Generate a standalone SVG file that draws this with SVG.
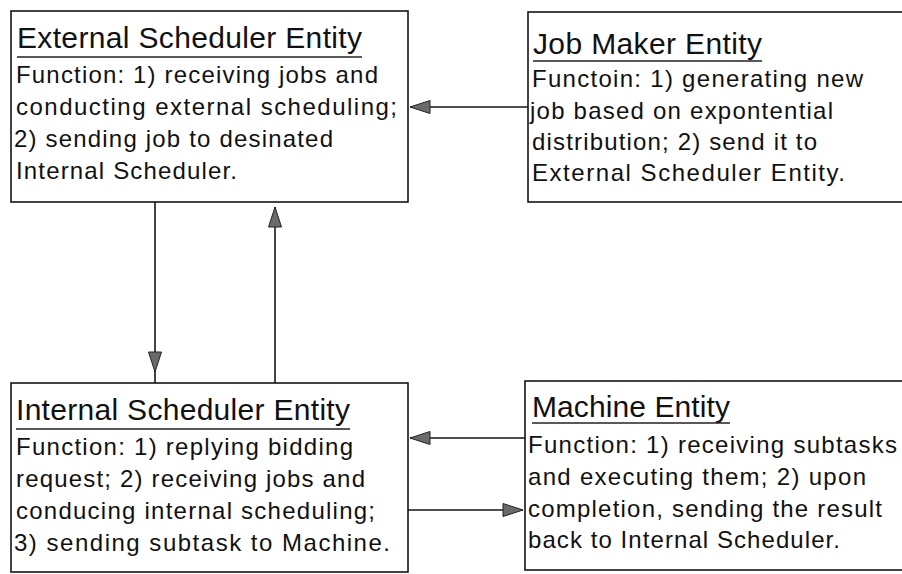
<svg xmlns="http://www.w3.org/2000/svg" width="902" height="574" viewBox="0 0 902 574">
  <style>
    .box { fill: #ffffff; stroke: #151515; stroke-width: 1.6; }
    .title { font-family: "Liberation Sans", Arial, sans-serif; font-size: 30px; fill: #111; }
    .body { font-family: "Liberation Sans", Arial, sans-serif; font-size: 24px; fill: #111; }
    .uline { stroke: #222; stroke-width: 1.4; }
    .wire { fill: none; stroke: #151515; stroke-width: 1.6; }
  </style>
  <defs>
    <marker id="head" markerUnits="userSpaceOnUse" markerWidth="24" markerHeight="16" refX="21" refY="7.5" orient="auto">
      <path d="M1,1 L21,7.5 L1,14 Z" fill="#6a6a6a" stroke="#222" stroke-width="1"/>
    </marker>
  </defs>

  <rect width="902" height="574" fill="#ffffff"/>

  <!-- External Scheduler Entity -->
  <g id="external-scheduler">
    <rect class="box" x="11" y="11" width="397" height="191"/>
    <text class="title" x="17" y="48" textLength="345">External Scheduler Entity</text>
    <line class="uline" x1="17" y1="57" x2="362" y2="57"/>
    <text class="body" x="16" y="83" textLength="362">Function: 1) receiving jobs and</text>
    <text class="body" x="16" y="115" textLength="381">conducting external scheduling;</text>
    <text class="body" x="14" y="147" textLength="319">2) sending job to desinated</text>
    <text class="body" x="16" y="179" textLength="221">Internal Scheduler.</text>
  </g>

  <!-- Job Maker Entity -->
  <g id="job-maker">
    <rect class="box" x="528" y="12" width="380" height="190"/>
    <text class="title" x="533" y="54" textLength="229">Job Maker Entity</text>
    <line class="uline" x1="533" y1="61" x2="762" y2="61"/>
    <text class="body" x="532" y="87" textLength="331">Functoin: 1) generating new</text>
    <text class="body" x="530" y="119" textLength="303">job based on expontential</text>
    <text class="body" x="532" y="150" textLength="285">distribution; 2) send it to</text>
    <text class="body" x="532" y="181" textLength="313">External Scheduler Entity.</text>
  </g>

  <!-- Internal Scheduler Entity -->
  <g id="internal-scheduler">
    <rect class="box" x="11" y="383" width="397" height="189"/>
    <text class="title" x="16" y="420" textLength="334">Internal Scheduler Entity</text>
    <line class="uline" x1="16" y1="429" x2="350" y2="429"/>
    <text class="body" x="16" y="455" textLength="337">Function: 1) replying bidding</text>
    <text class="body" x="16" y="487" textLength="349">request; 2) receiving jobs and</text>
    <text class="body" x="16" y="519" textLength="359">conducing internal scheduling;</text>
    <text class="body" x="14" y="551" textLength="376">3) sending subtask to Machine.</text>
  </g>

  <!-- Machine Entity -->
  <g id="machine">
    <rect class="box" x="525" y="381" width="383" height="189"/>
    <text class="title" x="532" y="417" textLength="198">Machine Entity</text>
    <line class="uline" x1="532" y1="423" x2="730" y2="423"/>
    <text class="body" x="528" y="453" textLength="369">Function: 1) receiving subtasks</text>
    <text class="body" x="528" y="485" textLength="338">and executing them; 2) upon</text>
    <text class="body" x="528" y="517" textLength="354">completion, sending the result</text>
    <text class="body" x="528" y="548" textLength="312">back to Internal Scheduler.</text>
  </g>

  <!-- Connectors -->
  <g id="connectors">
    <!-- job maker to external scheduler -->
    <path class="wire" d="M528,107 H410" marker-end="url(#head)"/>
    <!-- external scheduler down to internal scheduler -->
    <path class="wire" d="M155,202 V372" marker-end="url(#head)"/>
    <path class="wire" d="M155,372 V383"/>
    <!-- internal scheduler up to external scheduler -->
    <path class="wire" d="M275,383 V207" marker-end="url(#head)"/>
    <!-- machine back to internal scheduler -->
    <path class="wire" d="M525,438 H410" marker-end="url(#head)"/>
    <!-- internal scheduler to machine -->
    <path class="wire" d="M408,510 H523" marker-end="url(#head)"/>
  </g>
</svg>
